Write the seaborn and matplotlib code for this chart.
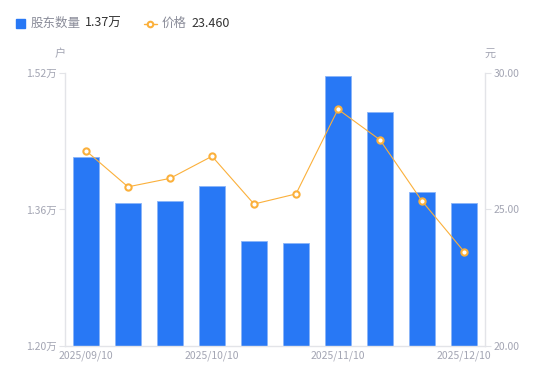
import matplotlib
matplotlib.use("Agg")
import matplotlib.pyplot as plt
import numpy as np
import seaborn as sns

# data
dates = ["2025/09/10", "2025/09/20", "2025/09/30", "2025/10/10", "2025/10/20",
         "2025/10/31", "2025/11/10", "2025/11/20", "2025/11/30", "2025/12/10"]
holders = [1.422, 1.368, 1.370, 1.388, 1.323, 1.321, 1.517, 1.474, 1.380, 1.368]  # 万户
price = [27.15, 25.83, 26.14, 26.95, 25.20, 25.57, 28.67, 27.55, 25.31, 23.46]
left_ticks = [1.20, 1.36, 1.52]
right_ticks = [20.0, 25.0, 30.0]
shown_dates = ["2025/09/10", "2025/10/10", "2025/11/10", "2025/12/10"]

blue = "#2878f5"
orange = "#fbb03b"
grey = "#a3a5b3"
axis_grey = "#e3e4e8"

sns.set_style("white")
plt.rcParams["font.family"] = ["Noto Sans CJK SC", "DejaVu Sans"]

fig = plt.figure(figsize=(5.5, 3.81), dpi=100)
ax = fig.add_axes([0.1182, 0.0919, 0.7636, 0.7165])

# bars - holder count
sns.barplot(x=dates, y=holders, color=blue, saturation=1, width=0.6,
            edgecolor="#8ab4f8", linewidth=0.6, ax=ax)
ax.set_ylim(left_ticks[0], left_ticks[-1])
ax.set_xlim(-0.5, len(dates) - 0.5)
ax.set_yticks(left_ticks)
ax.set_yticklabels([f"{v:.2f}万" for v in left_ticks])
ax.set_xticks([dates.index(d) for d in shown_dates])
ax.set_xticklabels(shown_dates)
ax.set_xlabel("")
ax.set_ylabel("")

# line - price
ax2 = ax.twinx()
sns.lineplot(x=np.arange(len(dates)), y=price, color=orange, linewidth=0.8,
             marker="o", markersize=4.5, markerfacecolor="white",
             markeredgecolor=orange, markeredgewidth=1.5, ax=ax2)
ax2.set_ylim(right_ticks[0], right_ticks[-1])
ax2.set_xlim(-0.5, len(dates) - 0.5)
ax2.set_yticks(right_ticks)
ax2.set_yticklabels([f"{v:.2f}" for v in right_ticks])

for a in (ax, ax2):
    a.spines["top"].set_visible(False)
    for s in ("left", "right", "bottom"):
        a.spines[s].set_color(axis_grey)
        a.spines[s].set_linewidth(1)
    a.tick_params(colors=grey, labelsize=7.5, length=4, width=0.8, color=axis_grey, pad=2)
ax.spines["right"].set_visible(False)
ax2.spines["left"].set_visible(False)
ax2.spines["bottom"].set_visible(False)
ax.tick_params(axis="x", length=0, pad=3)

# unit labels
fig.text(0.109, 0.85, "户", color=grey, fontsize=8, ha="center")
fig.text(0.891, 0.85, "元", color=grey, fontsize=8, ha="center")

# legend header
fig.patches.append(plt.Rectangle((0.029, 0.926), 0.016, 0.024, transform=fig.transFigure,
                                 color=blue, figure=fig))
fig.text(0.055, 0.938, "股东数量", color="#8a8c99", fontsize=9, va="center")
fig.text(0.155, 0.938, f"{holders[-1]:.2f}万", color="#333333", fontsize=9, va="center")
fig.lines.append(plt.Line2D([0.262, 0.285], [0.938, 0.938], transform=fig.transFigure,
                            color=orange, linewidth=1, figure=fig))
fig.lines.append(plt.Line2D([0.2735], [0.938], transform=fig.transFigure,
                            marker="o", markersize=4, markerfacecolor="white",
                            markeredgecolor=orange, markeredgewidth=1.5, figure=fig))
fig.text(0.294, 0.938, "价格", color="#8a8c99", fontsize=9, va="center")
fig.text(0.348, 0.938, f"{price[-1]:.3f}", color="#333333", fontsize=9, va="center")

fig.savefig("out.png", dpi=100)
